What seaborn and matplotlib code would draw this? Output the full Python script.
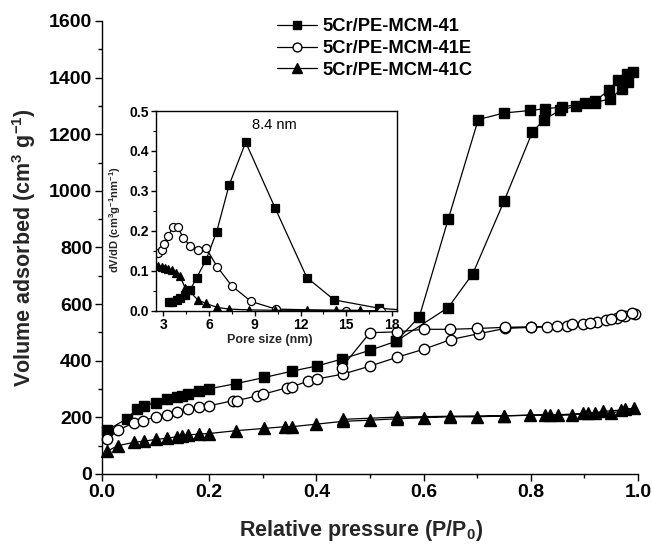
import matplotlib
matplotlib.use('Agg')
import matplotlib.pyplot as plt
import seaborn as sns
from matplotlib.ticker import MultipleLocator

# 主图：吸附-脱附等温线（先吸附后脱附，连成一条回线）
sq_x = [0.010, 0.046, 0.066, 0.078, 0.100, 0.121, 0.140, 0.149, 0.161, 0.181, 0.200, 0.250, 0.303, 0.354,
        0.402, 0.448, 0.500, 0.549, 0.646, 0.692, 0.750, 0.803, 0.825, 0.854, 0.885, 0.920, 0.948, 0.970,
        0.981, 0.991,
        0.979, 0.963, 0.945, 0.920, 0.901, 0.858, 0.826, 0.799, 0.750, 0.702, 0.646, 0.592, 0.549]
sq_y = [155, 195, 230, 241, 252, 264, 273, 276, 282, 293, 301, 319, 341, 363,
        382, 406, 437, 469, 588, 708, 963, 1208, 1252, 1284, 1300, 1312, 1325, 1361,
        1384, 1420,
        1414, 1393, 1355, 1317, 1310, 1296, 1290, 1284, 1275, 1252, 900, 555, 469]

ci_x = [0.010, 0.030, 0.060, 0.077, 0.100, 0.121, 0.140, 0.161, 0.181, 0.200, 0.245, 0.251, 0.290, 0.301,
        0.346, 0.354, 0.385, 0.402, 0.450, 0.500, 0.550, 0.601, 0.651, 0.704, 0.752, 0.800, 0.830, 0.867,
        0.898, 0.923, 0.941, 0.960, 0.976, 0.994,
        0.988, 0.969, 0.950, 0.910, 0.876, 0.848, 0.800, 0.752, 0.700, 0.649, 0.600, 0.550, 0.500, 0.447]
ci_y = [123, 155, 181, 188, 202, 210, 218, 228, 235, 241, 259, 259, 276, 282,
        305, 308, 328, 336, 353, 381, 412, 441, 475, 496, 514, 518, 520, 524,
        530, 536, 544, 550, 558, 566,
        567, 560, 548, 535, 529, 522, 520, 518, 514, 511, 511, 502, 499, 376]

tr_x = [0.010, 0.030, 0.060, 0.078, 0.100, 0.121, 0.140, 0.149, 0.161, 0.181, 0.200, 0.250, 0.303, 0.341,
        0.354, 0.400, 0.450, 0.500, 0.550, 0.601, 0.650, 0.700, 0.750, 0.799, 0.826, 0.850, 0.876, 0.898,
        0.920, 0.934, 0.969, 0.993,
        0.976, 0.950, 0.907, 0.835, 0.750, 0.650, 0.550, 0.450]
tr_y = [81, 100, 112, 116, 122, 126, 132, 134, 138, 141, 143, 153, 161, 167,
        167, 176, 186, 190, 195, 199, 202, 202, 205, 208, 208, 208, 208, 214,
        216, 221, 226, 232,
        228, 214, 214, 208, 206, 204, 201, 193]

# 插图：孔径分布
in_sq_x = [3.39, 3.6, 3.88, 4.1, 4.43, 4.76, 5.19, 5.80, 6.5, 7.31, 8.4, 10.33, 12.41, 14.2, 17.16, 18.6]
in_sq_y = [0.021, 0.022, 0.027, 0.031, 0.039, 0.052, 0.083, 0.127, 0.198, 0.314, 0.422, 0.257, 0.083, 0.027, 0.006, 0.002]
in_ci_x = [2.67, 2.89, 3.07, 3.33, 3.62, 3.95, 4.31, 4.75, 5.26, 5.80, 6.55, 7.49, 8.76, 10.38, 15.0, 17.3]
in_ci_y = [0.144, 0.152, 0.168, 0.188, 0.209, 0.209, 0.182, 0.163, 0.152, 0.157, 0.109, 0.062, 0.023, 0.004, 0.0, 0.0]
in_tr_x = [2.67, 2.89, 3.1, 3.33, 3.55, 3.83, 4.1, 4.43, 4.64, 5.26, 5.8, 6.55, 7.3, 8.6, 10.3, 12.4, 14.3, 15.9]
in_tr_y = [0.112, 0.110, 0.108, 0.105, 0.101, 0.094, 0.086, 0.057, 0.052, 0.027, 0.018, 0.008, 0.004, 0.002,
           0.001, 0.001, 0.001, 0.001]

labels = ['5Cr/PE-MCM-41', '5Cr/PE-MCM-41E', '5Cr/PE-MCM-41C']

# 基础配置
sns.set_style('ticks')
plt.rcParams['font.family'] = ['Liberation Sans', 'DejaVu Sans']
plt.rcParams['font.weight'] = 'bold'
plt.rcParams['mathtext.fontset'] = 'custom'
plt.rcParams['mathtext.rm'] = 'Liberation Sans'
plt.rcParams['mathtext.bf'] = 'Liberation Sans:bold'
plt.rcParams['mathtext.default'] = 'bf'
plt.rcParams['text.color'] = 'black'
plt.rcParams['axes.edgecolor'] = 'black'
plt.rcParams['xtick.color'] = 'black'
plt.rcParams['ytick.color'] = 'black'

fig = plt.figure(figsize=(6.52, 5.44), dpi=100)
ax = fig.add_axes([0.1564, 0.1287, 0.8221, 0.8327])

styles = [('s', 'black', 7), ('o', 'white', 7.5), ('^', 'black', 8)]
for (xs, ys), lab, (mk, fc, ms) in zip([(sq_x, sq_y), (ci_x, ci_y), (tr_x, tr_y)], labels, styles):
    sns.lineplot(x=xs, y=ys, sort=False, estimator=None, ax=ax, color='black', linewidth=0.9,
                 marker=mk, markersize=ms, markerfacecolor=fc, markeredgecolor='black',
                 markeredgewidth=1, label=lab, clip_on=False)

ax.set_xlim(0, 1.0)
ax.set_ylim(0, 1600)
ax.xaxis.set_major_locator(MultipleLocator(0.2))
ax.xaxis.set_minor_locator(MultipleLocator(0.1))
ax.yaxis.set_major_locator(MultipleLocator(200))
ax.yaxis.set_minor_locator(MultipleLocator(100))
ax.tick_params(which='major', length=5, width=1, labelsize=14, pad=2)
ax.tick_params(which='minor', length=3, width=1)
for s in ['left', 'bottom']:
    ax.spines[s].set_linewidth(1)
sns.despine(ax=ax)

ax.set_xlabel('Relative pressure (P/P$_0$)', fontsize=15.5, fontweight='bold')
ax.set_ylabel('Volume adsorbed (cm$^3$ g$^{-1}$)', fontsize=15.5, fontweight='bold')
ax.xaxis.set_label_coords(0.483, -0.098)
ax.yaxis.set_label_coords(-0.119, 0.5)

ax.legend(frameon=False, loc='upper left', bbox_to_anchor=(0.4248, 0.966), bbox_transform=fig.transFigure,
          borderaxespad=0, borderpad=0, handlelength=2.2, handletextpad=0.28, labelspacing=0.25,
          markerscale=0.85, prop={'weight': 'bold', 'size': 13.2})

# 插图
ins = fig.add_axes([0.2388, 0.4289, 0.3696, 0.367])
ins.set_facecolor('white')
in_styles = [('s', 'black', 5.3), ('o', 'white', 5.8), ('^', 'black', 5.8)]
for (xs, ys), (mk, fc, ms) in zip([(in_sq_x, in_sq_y), (in_ci_x, in_ci_y), (in_tr_x, in_tr_y)], in_styles):
    sns.lineplot(x=xs, y=ys, sort=False, estimator=None, ax=ins, color='black', linewidth=0.9,
                 marker=mk, markersize=ms, markerfacecolor=fc, markeredgecolor='black',
                 markeredgewidth=0.9, legend=False)

ins.set_xlim(2.5, 18.3)
ins.set_ylim(0, 0.5)
ins.xaxis.set_major_locator(MultipleLocator(3))
ins.xaxis.set_minor_locator(MultipleLocator(1.5))
ins.yaxis.set_major_locator(MultipleLocator(0.1))
ins.yaxis.set_minor_locator(MultipleLocator(0.05))
ins.tick_params(which='major', length=3.5, width=1, labelsize=10, pad=1.5)
ins.tick_params(which='minor', length=2, width=0.8)
ins.set_yticks([0.0, 0.1, 0.2, 0.3, 0.4, 0.5])
ins.set_yticklabels(['0.0', '0.1', '0.2', '0.3', '0.4', '0.5'])
for s in ins.spines.values():
    s.set_visible(True)
    s.set_linewidth(1)

ins.set_xlabel('Pore size (nm)', fontsize=9, fontweight='bold')
ins.set_ylabel('dV/dD (cm$^3$g$^{-1}$nm$^{-1}$)', fontsize=8, fontweight='bold')
ins.xaxis.set_label_coords(0.474, -0.115)
ins.yaxis.set_label_coords(-0.136, 0.454)
ins.text(10.3, 0.465, '8.4 nm', ha='center', va='center', fontsize=10.5, fontweight='normal')

fig.savefig('out.png', dpi=100)
